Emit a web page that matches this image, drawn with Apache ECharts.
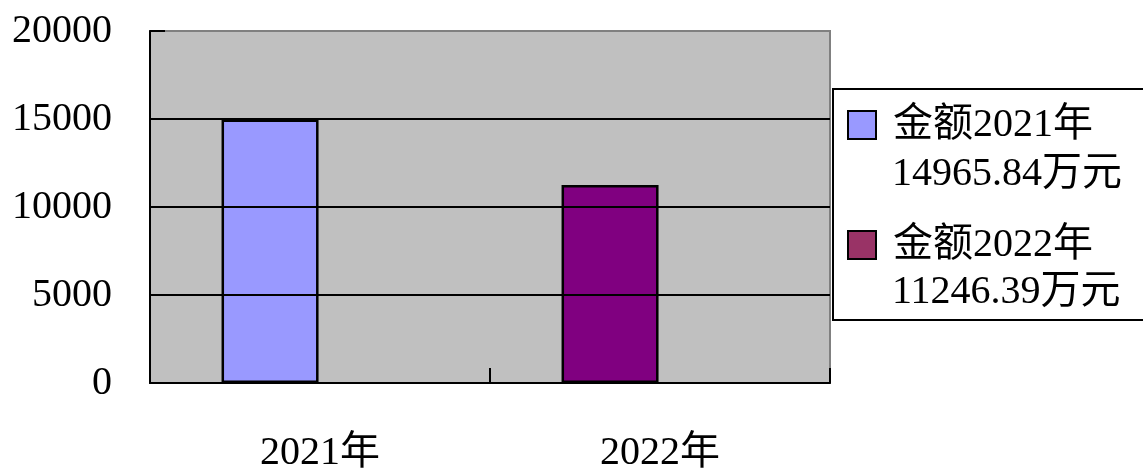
<!DOCTYPE html>
<html>
<head>
<meta charset="utf-8">
<script src="https://cdn.jsdelivr.net/npm/echarts@6/dist/echarts.min.js"></script>
<style>
  html, body { margin: 0; padding: 0; background: #fff; }
  #chart { width: 1143px; height: 473px; }
</style>
</head>
<body>
<div id="chart"></div>
<script>
// values
const categories = ["2021年", "2022年"];
const amounts = [14965.84, 11246.39];
const legendNames = ["金额2021年\n14965.84万元", "金额2022年\n11246.39万元"];
const yTicks = [0, 5000, 10000, 15000, 20000];

const barColors = ["#9999ff", "#800080"];
const legendColors = ["#9999ff", "#993366"];
const font = "'Liberation Serif', 'Noto Sans CJK SC', serif";

const chart = echarts.init(document.getElementById("chart"));

// the legend text is two lines, icon sits on the first one:
// one legend draws box + icon + line 1, a second one draws line 2 below it
const legendText = {
  fontFamily: font,
  fontSize: 40,
  lineHeight: 50,
  color: "#000",
  padding: [0, 0, 0, 12],
};

chart.setOption({
  animation: false,
  textStyle: { fontFamily: font },
  grid: {
    left: 150,
    right: 313,
    top: 31,
    bottom: 88,
    show: true,
    backgroundColor: "#c0c0c0",
    borderColor: "#808080",
    borderWidth: 2,
  },
  legend: [
    {
      orient: "vertical",
      left: 833,
      top: 89,
      padding: [11, 300, 50, 14],
      backgroundColor: "#fff",
      borderColor: "#000",
      borderWidth: 2,
      icon: "rect",
      itemWidth: 28,
      itemHeight: 28,
      itemGap: 70,
      selectedMode: false,
      textStyle: legendText,
      formatter: (name) => name.split("\n")[0],
      data: legendNames.map((name, i) => ({
        name,
        itemStyle: { color: legendColors[i], borderColor: "#000", borderWidth: 2 },
      })),
    },
    {
      orient: "vertical",
      left: 833,
      top: 149,
      padding: [0, 0, 0, 14],
      z: 10,
      icon: "rect",
      itemWidth: 28,
      itemHeight: 28,
      itemGap: 68,
      selectedMode: false,
      textStyle: legendText,
      formatter: (name) => name.split("\n")[1],
      data: legendNames.map((name) => ({
        name,
        itemStyle: { color: "rgba(0,0,0,0)", borderWidth: 0 },
      })),
    },
  ],
  xAxis: {
    type: "category",
    data: categories,
    z: 5,
    axisLine: { lineStyle: { color: "#000", width: 2 } },
    axisTick: { show: true, inside: true, length: 15, lineStyle: { color: "#000", width: 2 } },
    axisLabel: { color: "#000", fontSize: 40, fontFamily: font, margin: 50 },
  },
  yAxis: {
    type: "value",
    min: yTicks[0],
    max: yTicks[yTicks.length - 1],
    interval: yTicks[1] - yTicks[0],
    z: 5,
    axisLine: { show: true, lineStyle: { color: "#000", width: 2 } },
    axisTick: { show: true, inside: true, length: 15, lineStyle: { color: "#000", width: 2 } },
    axisLabel: {
      color: "#000",
      fontSize: 40,
      fontFamily: font,
      margin: 38,
      formatter: (v) => String(v),
    },
    splitLine: {
      lineStyle: { color: ["#000", "#000", "#000", "#000", "#808080"], width: 2 },
    },
  },
  series: [
    {
      name: legendNames[0],
      type: "bar",
      barWidth: 97,
      barGap: "3%",
      itemStyle: { color: legendColors[0], borderColor: "#000", borderWidth: 2.5 },
      data: amounts.map((v, i) => ({ value: v, itemStyle: { color: barColors[i] } })),
    },
    {
      name: legendNames[1],
      type: "bar",
      barWidth: 97,
      barGap: "3%",
      itemStyle: { color: legendColors[1], borderColor: "#000", borderWidth: 2.5 },
      data: categories.map(() => "-"),
    },
  ],
});
</script>
</body>
</html>
